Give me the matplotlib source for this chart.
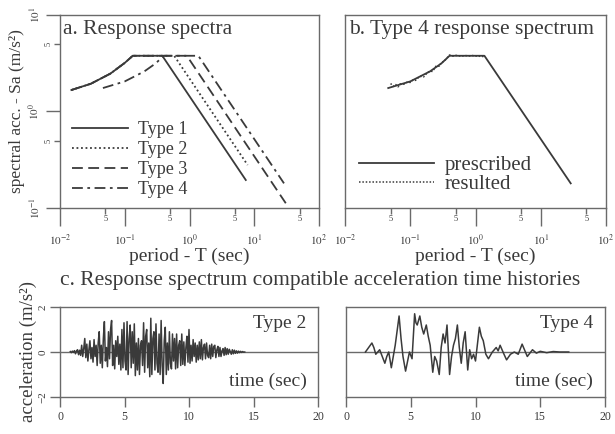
import numpy as np
import matplotlib
matplotlib.use('Agg')
import matplotlib.pyplot as plt
from matplotlib.ticker import FixedLocator, FixedFormatter

plt.rcParams['font.family'] = ['Liberation Serif', 'DejaVu Serif']
plt.rcParams['mathtext.fontset'] = 'stix'

INK = '#3a3a3a'
GRID = '#6a6a6a'

#---- data: response spectra (period T in sec, Sa in m/s^2) ----
t1 = [0.015, 0.03, 0.06, 0.1, 0.133, 0.38, 7.4]
sa1 = [1.67, 1.94, 2.47, 3.19, 3.78, 3.78, 0.195]
t2 = [0.015, 0.03, 0.06, 0.1, 0.133, 0.58, 7.9]
sa2 = [1.67, 1.94, 2.47, 3.19, 3.78, 3.78, 0.279]
t3 = [0.015, 0.03, 0.06, 0.1, 0.133, 0.91, 30.7]
sa3 = [1.67, 1.94, 2.47, 3.19, 3.78, 3.78, 0.112]
t4 = [0.046, 0.1, 0.2, 0.3, 0.4, 1.37, 28.8]
sa4 = [1.75, 2.05, 2.6, 3.15, 3.78, 3.78, 0.18]

# resulted spectrum of the type 4 time history
t_res = [0.05, 0.055, 0.06, 0.065, 0.07, 0.08, 0.09, 0.1, 0.11, 0.12, 0.14, 0.16,
         0.18, 0.2, 0.22, 0.25, 0.28, 0.3, 0.33, 0.36, 0.4, 0.45, 0.5, 0.6, 0.7,
         0.8, 0.9, 1.0, 1.1, 1.2, 1.3, 1.4]
sa_res = [1.95, 1.82, 1.9, 1.8, 1.93, 1.92, 2.02, 2.0, 2.12, 2.1, 2.32, 2.28,
          2.5, 2.62, 2.6, 2.98, 2.95, 3.25, 3.3, 3.55, 3.85, 3.75, 3.82, 3.74, 3.8,
          3.76, 3.8, 3.75, 3.79, 3.7, 3.72, 3.7]

#---- data: acceleration time histories ----
# type 2, sampled every 0.08 s starting at 0.8 s
acc2_start = 0.8
acc2_dt = 0.08
acc2 = [0.02, -0.03, 0.04, -0.02, 0.06, -0.08, 0.05, 0.1, -0.12, 0.08,
        -0.15, 0.3, -0.2, 0.15, 0.6, -0.25, 0.35, -0.4, 0.1, 0.5,
        -0.3, 0.2, -0.45, 0.55, -0.2, 0.3, -0.6, 0.4, 0.9, -0.5,
        0.3, -0.7, 0.6, 1.35, -0.4, 0.2, -0.65, 0.9, -0.3, 1.0,
        1.4, -0.6, 0.3, -0.75, 0.5, -0.2, 0.7, -0.55, 0.35, -0.8,
        1.0, -0.7, 1.3, -0.4, -0.8, 1.35, -1.0, 0.6, 1.2, -0.7,
        0.9, -0.5, 1.25, -1.05, 0.4, -0.8, 0.6, -1.0, 0.3, 0.5,
        -0.6, 1.3, -0.9, 0.7, 1.0, -0.7, 0.4, -1.1, 1.5, -1.0,
        0.6, 0.9, -0.8, 1.25, -0.5, -0.9, 0.8, -1.0, 1.4, -0.6,
        -1.4, 0.5, 1.1, -1.0, 0.4, -0.8, 0.9, -0.5, -0.75, 0.8,
        -0.4, 0.6, -0.75, 0.8, -0.7, 0.3, 0.5, -0.6, 0.8, -0.55,
        0.45, -0.6, 0.2, 0.7, -0.45, 1.0, -0.5, 0.3, -0.4, 0.55,
        -0.2, 0.4, -0.45, 0.3, -0.35, 0.45, -0.3, 0.55, -0.35, 0.2,
        0.35, -0.3, 0.4, -0.15, -0.25, 0.3, -0.3, 0.35, -0.2, 0.25,
        0.3, -0.25, 0.1, 0.25, -0.2, 0.2, -0.2, 0.05, 0.15, -0.15,
        0.2, -0.12, 0.15, -0.1, 0.12, 0.02, -0.1, 0.1, -0.08, 0.08,
        -0.06, 0.05, -0.05, 0.04, -0.03, 0.03, -0.02, 0.02, -0.01, 0.0]

# type 4, irregular samples (time, acc)
time4 = [1.5, 2.0, 2.15, 2.3, 2.6, 3.0, 3.15, 3.3, 3.5, 3.8, 4.1, 4.25, 4.4, 4.6,
         4.9, 5.1, 5.3, 5.4, 5.5, 5.7, 5.85, 6.0, 6.2, 6.35, 6.5, 6.7, 6.85, 7.0,
         7.1, 7.2, 7.35, 7.5, 7.65, 7.8, 8.0, 8.15, 8.3, 8.45, 8.6, 8.75, 8.9, 9.05,
         9.2, 9.4, 9.55, 9.7, 9.85, 10.0, 10.3, 10.45, 10.6, 10.8, 11.0, 11.3, 11.6,
         11.75, 11.9, 12.2, 12.4, 12.7, 13.0, 13.3, 13.6, 14.0, 14.4, 14.7, 15.0,
         15.5, 16.0, 16.5, 17.2]
acc4 = [0.0, 0.4, 0.2, -0.1, 0.1, -0.5, -0.2, 0.0, -0.7, 0.3, 1.6, 0.6, -0.2, -0.85,
        0.0, -0.3, 1.7, 1.3, 1.2, 1.6, 1.1, 0.8, 1.2, 0.7, 0.3, -0.9, -0.2, -0.4,
        -0.7, -1.0, 0.2, 0.8, 0.4, 1.2, -1.0, -0.2, 0.3, 0.6, 1.2, 0.2, -0.5, 0.4,
        0.9, -0.8, 0.1, -0.3, -0.1, -0.4, 1.1, 0.7, 0.5, -0.1, -0.3, 0.0, 0.2,
        0.05, 0.3, -0.1, -0.35, -0.1, 0.0, -0.1, 0.35, -0.2, 0.1, -0.05, 0.03,
        -0.03, 0.02, 0.0, 0.0]

W, H = 615, 434
fig = plt.figure(figsize=(W / 100, H / 100), dpi=100)


def box(l, r, t, b):
    return [l / W, 1 - b / H, (r - l) / W, (b - t) / H]


def style_spines(ax):
    for s in ax.spines.values():
        s.set_color(GRID)
        s.set_linewidth(1.0)


def log_xaxis(ax):
    ax.set_xscale('log')
    ax.set_xlim(1e-2, 1e2)
    ax.xaxis.set_major_locator(FixedLocator([1e-2, 1e-1, 1, 10, 100]))
    ax.xaxis.set_major_formatter(FixedFormatter(['$10^{-2}$', '$10^{-1}$', '$10^{0}$', '$10^{1}$', '$10^{2}$']))
    ax.xaxis.set_minor_locator(FixedLocator([5e-2, 5e-1, 5, 50]))
    ax.xaxis.set_minor_formatter(FixedFormatter(['5'] * 4))
    ax.tick_params(axis='x', which='major', direction='out', length=13, width=1, color=GRID,
                   labelsize=8, pad=5, labelcolor=INK)
    ax.tick_params(axis='x', which='minor', direction='out', length=4, width=1, color=GRID,
                   labelsize=6, pad=1, labelcolor=INK)
    ax.set_xlabel('period - T (sec)', fontsize=14, color=INK, labelpad=0)


#---- a. response spectra ----
ax_a = fig.add_axes(box(60, 319, 15, 208))
style_spines(ax_a)
log_xaxis(ax_a)
ax_a.set_yscale('log')
ax_a.set_ylim(0.1, 10)
ax_a.yaxis.set_major_locator(FixedLocator([0.1, 1, 10]))
ax_a.yaxis.set_major_formatter(FixedFormatter(['$10^{-1}$', '$10^{0}$', '$10^{1}$']))
ax_a.yaxis.set_minor_locator(FixedLocator([0.5, 5]))
ax_a.yaxis.set_minor_formatter(FixedFormatter(['5', '5']))
ax_a.tick_params(axis='y', which='major', direction='out', length=10, width=1, color=GRID,
                 labelsize=8, pad=3, labelcolor=INK, labelrotation=90)
ax_a.tick_params(axis='y', which='minor', direction='out', length=4, width=1, color=GRID,
                 labelsize=6, pad=1, labelcolor=INK, labelrotation=90)
for lab in ax_a.get_yticklabels(which='both'):
    lab.set_va('center')
ax_a.set_ylabel('spectral acc. - Sa (m/s²)', fontsize=12.5, color=INK, labelpad=1)

ax_a.plot(t1, sa1, color=INK, lw=1.3, ls='-', label='Type 1')
ax_a.plot(t2, sa2, color=INK, lw=1.3, ls=(0, (1, 1.5)), label='Type 2')
ax_a.plot(t3, sa3, color=INK, lw=1.3, ls=(0, (6, 3)), label='Type 3')
ax_a.plot(t4, sa4, color=INK, lw=1.3, ls=(0, (6, 2.5, 1.5, 2.5)), label='Type 4')
ax_a.text(0.01, 0.925, 'a. Response spectra', transform=ax_a.transAxes, fontsize=15.5,
          color=INK, va='center', ha='left')
ax_a.legend(loc='lower left', bbox_to_anchor=(0.045, 0.05), frameon=False, fontsize=13,
            handlelength=3.1, handletextpad=0.6, labelspacing=0.17, borderpad=0,
            borderaxespad=0, labelcolor=INK)

#---- b. type 4 response spectrum ----
ax_b = fig.add_axes(box(345, 606, 15, 208))
style_spines(ax_b)
log_xaxis(ax_b)
ax_b.set_yscale('log')
ax_b.set_ylim(0.1, 10)
ax_b.tick_params(axis='y', which='both', left=False, labelleft=False)
ax_b.plot(t4, sa4, color=INK, lw=1.3, ls='-', label='prescribed')
ax_b.plot(t_res, sa_res, color=INK, lw=1.1, ls=(0, (1, 1.2)), label='resulted')
ax_b.text(0.015, 0.925, 'b. Type 4 response spectrum', transform=ax_b.transAxes, fontsize=15.5,
          color=INK, va='center', ha='left')
ax_b.legend(loc='lower left', bbox_to_anchor=(0.055, 0.07), frameon=False, fontsize=15,
            handlelength=3.6, handletextpad=0.5, labelspacing=0.0, borderpad=0,
            borderaxespad=0, labelcolor=INK)

#---- c. time histories ----
fig.text(60 / W, 1 - 281 / H, 'c. Response spectrum compatible acceleration time histories',
         fontsize=15.5, color=INK, va='center', ha='left')

time2 = acc2_start + acc2_dt * np.arange(len(acc2))
panels = [(box(60, 318, 307, 397), time2, acc2, 'Type 2', True),
          (box(346, 605, 307, 397), time4, acc4, 'Type 4', False)]
for rect, tt, aa, name, show_y in panels:
    ax = fig.add_axes(rect)
    style_spines(ax)
    ax.set_xlim(0, 20)
    ax.set_ylim(-2, 2)
    ax.axhline(0, color=GRID, lw=1.0)
    ax.plot(tt, aa, color=INK, lw=1.1)
    ax.set_xticks([0, 5, 10, 15, 20])
    ax.tick_params(axis='x', direction='out', length=7, width=1, color=GRID, labelsize=8.5,
                   pad=3, labelcolor=INK)
    if show_y:
        ax.set_yticks([-2, 0, 2])
        ax.tick_params(axis='y', direction='out', length=7, width=1, color=GRID, labelsize=8,
                       pad=2, labelcolor=INK, labelrotation=90)
        for lab in ax.get_yticklabels():
            lab.set_va('center')
        ax.set_ylabel('acceleration (m/s²)', fontsize=13.5, color=INK, labelpad=1)
    else:
        ax.tick_params(axis='y', left=False, labelleft=False)
    ax.text(0.955, 0.82, name, transform=ax.transAxes, fontsize=14, color=INK,
            ha='right', va='center')
    ax.text(0.955, 0.17, 'time (sec)', transform=ax.transAxes, fontsize=14, color=INK,
            ha='right', va='center')

fig.savefig('out.png', dpi=100)
